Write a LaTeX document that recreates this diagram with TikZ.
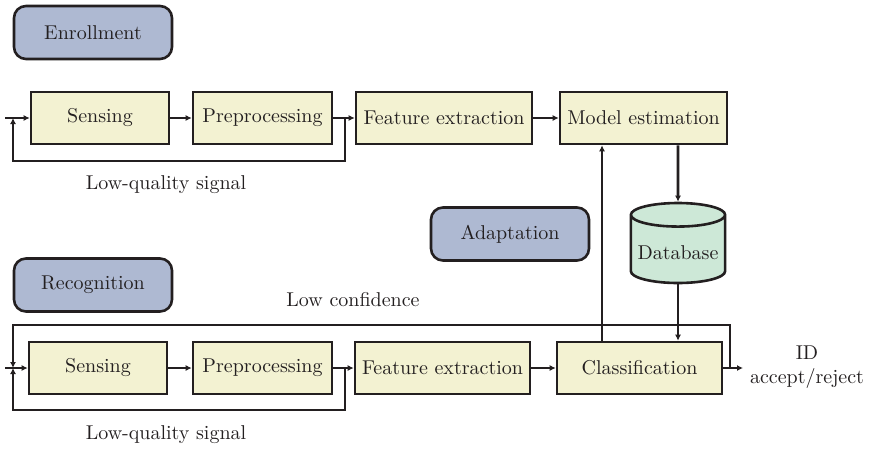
\documentclass[tikz,border=0pt]{standalone}
\usepackage{tikz}
\usetikzlibrary{arrows.meta,shapes.geometric}
\definecolor{boxfill}{RGB}{243,242,210}
\definecolor{phasefill}{RGB}{174,185,210}
\definecolor{dbfill}{RGB}{205,232,215}
\definecolor{ink}{RGB}{35,31,32}
\tikzset{
  stage/.style={draw=ink, line width=1.3pt, fill=boxfill, minimum height=26pt, inner sep=1pt},
  phase/.style={draw=ink, line width=1.3pt, fill=phasefill, rounded corners=6pt, minimum width=79pt, minimum height=26.5pt},
  flow/.style={draw=ink, line width=1.4pt, -{Latex[length=3pt,width=3pt]}}
}
\begin{document}
\begin{tikzpicture}[x=0.5pt, y=-0.5pt, font=\normalsize, text=ink]
		\useasboundingbox (0,0) rectangle (870,449);
		% phase labels
		\node[phase] (enr) at (93,32.5) {Enrollment};
		\node[phase] (adapt) at (510,234) {Adaptation};
		\node[phase] (rec) at (93,285) {Recognition};
		% enrollment chain
		\node[stage, minimum width=69pt] (sens1) at (100,118) {Sensing};
		\node[stage, minimum width=69.5pt] (pre1) at (262.5,118) {Preprocessing};
		\node[stage, minimum width=88pt] (fe1) at (444,118) {Feature extraction};
		\node[stage, minimum width=83.5pt] (me1) at (643.5,118) {Model estimation};
		% database
		\node[cylinder, shape border rotate=90, aspect=0.25, draw=ink, line width=1.3pt, fill=dbfill,
			minimum width=46.5pt, minimum height=40pt, anchor=shape center] (db) at (678,243) {Database};
		% recognition chain
		\node[stage, minimum width=69pt] (sens2) at (98,368) {Sensing};
		\node[stage, minimum width=69.5pt] (pre2) at (262.5,368) {Preprocessing};
		\node[stage, minimum width=87.5pt] (fe2) at (442.5,368) {Feature extraction};
		\node[stage, minimum width=82.5pt] (cls) at (639.5,368) {Classification};
		% free ends and junctions
		\coordinate (in1) at (5,118);
		\coordinate (m1) at (13,118);
		\coordinate (j1) at (345,118);
		\coordinate (in2) at (5,368);
		\coordinate (m2) at (13,368);
		\coordinate (j2) at (345,368);
		\coordinate (br) at (730,368);
		\coordinate (out) at (743,368);
		\coordinate (up) at (602,0);
		% enrollment connectors
		\draw[flow] (in1) -- (sens1);
		\draw[flow] (sens1) -- (pre1);
		\draw[flow] (pre1) -- (fe1);
		\draw[flow] (fe1) -- (me1);
		\draw[flow] (j1) -- ++(0,43) -| (m1);
		\node at (166,185) {Low-quality signal};
		% database and adaptation links
		\draw[flow] (me1.south -| db.shape center) -- (db.north);
		\draw[flow] (db.south) -- (db.south |- cls.north);
		\draw[flow] (up |- cls.north) -- (up |- me1.south);
		% recognition connectors
		\draw[flow] (in2) -- (sens2);
		\draw[flow] (sens2) -- (pre2);
		\draw[flow] (pre2) -- (fe2);
		\draw[flow] (fe2) -- (cls);
		\draw[flow] (cls) -- (out);
		\draw[flow] (br) -- ++(0,-43) -| (m2);
		\draw[flow] (j2) -- ++(0,42) -| (m2);
		\node at (353,300) {Low confidence};
		\node at (166,435) {Low-quality signal};
		\node[align=center] (res) at (807,367) {ID\\accept/reject};
	\end{tikzpicture}
\end{document}
